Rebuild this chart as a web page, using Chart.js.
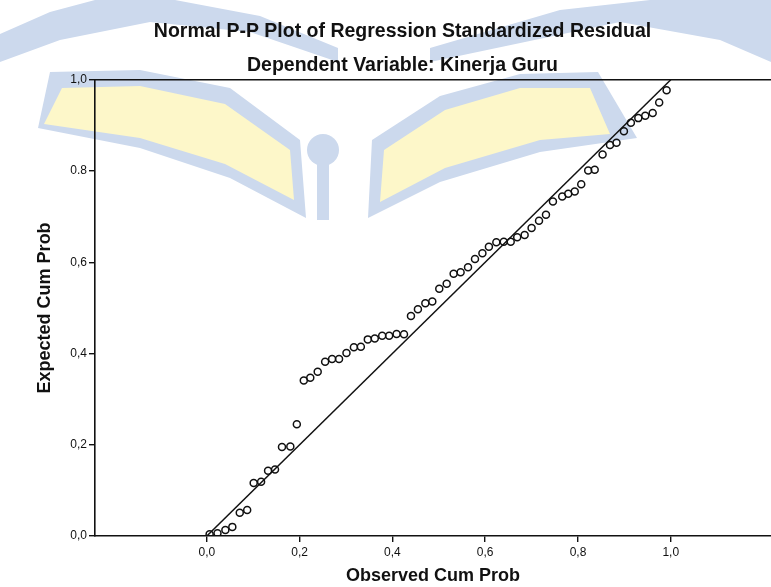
<!DOCTYPE html>
<html>
<head>
<meta charset="utf-8">
<title>Normal P-P Plot</title>
<script src="https://cdn.jsdelivr.net/npm/chart.js@4.4.1/dist/chart.umd.min.js"></script>
<style>
  html, body { margin: 0; padding: 0; background: #fff; }
  #wrap { width: 771px; height: 587px; }
</style>
</head>
<body>
<div id="wrap"><canvas id="ppPlot" width="771" height="587"></canvas></div>
<script>
// values
const observedCumProb = [
  0.006, 0.023, 0.040, 0.055, 0.071, 0.087, 0.101, 0.117, 0.132, 0.147, 0.162, 0.180, 0.194,
  0.209, 0.223, 0.239, 0.255, 0.270, 0.285, 0.301, 0.317, 0.332, 0.347, 0.362, 0.378, 0.393, 0.409, 0.425,
  0.440, 0.455, 0.471, 0.486, 0.501, 0.517, 0.532, 0.547, 0.563, 0.578, 0.594, 0.608, 0.624, 0.640, 0.655,
  0.669, 0.685, 0.700, 0.716, 0.731, 0.746,
  0.766, 0.779, 0.793, 0.807, 0.822, 0.836, 0.853, 0.869, 0.883, 0.899, 0.914, 0.930, 0.945, 0.961, 0.975, 0.991
];
const expectedCumProb = [
  0.004, 0.006, 0.013, 0.020, 0.051, 0.057, 0.116, 0.119, 0.143, 0.146, 0.195, 0.196, 0.245,
  0.341, 0.347, 0.360, 0.382, 0.388, 0.388, 0.401, 0.414, 0.415, 0.431, 0.433, 0.439, 0.439, 0.443, 0.442,
  0.482, 0.497, 0.510, 0.514, 0.542, 0.553, 0.575, 0.578, 0.589, 0.607, 0.620, 0.634, 0.644, 0.645, 0.645,
  0.655, 0.660, 0.675, 0.691, 0.704, 0.733,
  0.744, 0.750, 0.755, 0.771, 0.801, 0.803, 0.836, 0.857, 0.862, 0.887, 0.906, 0.916, 0.921, 0.927, 0.950, 0.977
];
const refLine = [0, 1];
const xRange = [-0.241, 1.216];
const yRange = [0, 1];
const xTickValues = [0, 0.2, 0.4, 0.6, 0.8, 1.0];
const xTickLabels = ["0,0", "0,2", "0,4", "0,6", "0,8", "1,0"];
const yTickLabels = ["0,0", "0,2", "0,4", "0,6", "0.8", "1,0"];

const FONT = '"Liberation Sans", Arial, Helvetica, sans-serif';
const INK = "#111";
const WM_BLUE = "rgb(204, 217, 237)";
const WM_YELLOW = "rgb(253, 247, 201)";

function poly(ctx, pts, color) {
  ctx.beginPath();
  ctx.moveTo(pts[0][0], pts[0][1]);
  for (let i = 1; i < pts.length; i++) ctx.lineTo(pts[i][0], pts[i][1]);
  ctx.closePath();
  ctx.fillStyle = color;
  ctx.fill();
}

// faint logo printed behind the scanned chart
const watermark = {
  id: "watermark",
  beforeDraw(chart) {
    const ctx = chart.ctx;
    ctx.save();
    ctx.fillStyle = "#fff";
    ctx.fillRect(0, 0, chart.width, chart.height);
    // upper page arcs
    poly(ctx, [[95, 0], [175, 0], [260, 16], [338, 48], [338, 62], [250, 32], [150, 22], [60, 40], [0, 62], [0, 34], [50, 12]], WM_BLUE);
    poly(ctx, [[771, 0], [771, 62], [720, 40], [620, 22], [430, 62], [430, 48], [560, 10], [650, 0]], WM_BLUE);
    // left page
    poly(ctx, [[50, 72], [140, 70], [230, 88], [300, 140], [306, 218], [230, 178], [140, 148], [38, 128]], WM_BLUE);
    poly(ctx, [[62, 88], [140, 86], [225, 104], [290, 150], [294, 200], [225, 164], [140, 138], [44, 124]], WM_YELLOW);
    // right page
    poly(ctx, [[598, 72], [520, 74], [440, 96], [372, 140], [368, 218], [440, 182], [540, 152], [637, 138]], WM_BLUE);
    poly(ctx, [[590, 88], [520, 88], [445, 110], [384, 150], [380, 202], [445, 168], [540, 140], [610, 134]], WM_YELLOW);
    // torch in the middle
    ctx.fillStyle = WM_BLUE;
    ctx.beginPath();
    ctx.arc(323, 150, 16, 0, Math.PI * 2);
    ctx.fill();
    ctx.fillRect(317, 160, 12, 60);
    ctx.restore();
  }
};

// top frame line across the plot
const frameTop = {
  id: "frameTop",
  afterDatasetsDraw(chart) {
    const { ctx, chartArea } = chart;
    ctx.save();
    ctx.strokeStyle = INK;
    ctx.lineWidth = 1.6;
    ctx.beginPath();
    ctx.moveTo(chartArea.left, chartArea.top);
    ctx.lineTo(chartArea.right, chartArea.top);
    ctx.stroke();
    ctx.restore();
  }
};

Chart.defaults.font.family = FONT;
Chart.defaults.color = INK;

const points = observedCumProb.map((x, i) => ({ x, y: expectedCumProb[i] }));
const diagonal = refLine.map((v) => ({ x: v, y: v }));

new Chart(document.getElementById("ppPlot"), {
  type: "scatter",
  data: {
    datasets: [
      {
        label: "Observed",
        data: points,
        pointStyle: "circle",
        pointRadius: 3.5,
        pointHoverRadius: 3.5,
        borderColor: INK,
        borderWidth: 1.5,
        backgroundColor: "rgba(0,0,0,0)"
      },
      {
        label: "Normal",
        type: "line",
        data: diagonal,
        borderColor: INK,
        borderWidth: 1.5,
        pointRadius: 0,
        fill: false
      }
    ]
  },
  options: {
    responsive: false,
    animation: false,
    layout: { autoPadding: false, padding: { left: 34, right: 0, top: 0, bottom: 0 } },
    plugins: {
      legend: { display: false },
      tooltip: { enabled: false },
      title: {
        display: true,
        text: "Normal P-P Plot of Regression Standardized Residual",
        font: { size: 19.5, weight: "bold" },
        color: INK,
        padding: { top: 20, bottom: 0 }
      },
      subtitle: {
        display: true,
        text: "Dependent Variable: Kinerja Guru",
        font: { size: 19.5, weight: "bold" },
        color: INK,
        padding: { top: 11, bottom: 2 }
      }
    },
    scales: {
      x: {
        type: "linear",
        min: xRange[0],
        max: xRange[1],
        afterBuildTicks(scale) {
          scale.ticks = xTickValues.map((value) => ({ value }));
        },
        afterFit(scale) { scale.height = 51; },
        ticks: {
          autoSkip: false,
          maxRotation: 0,
          padding: 3,
          font: { size: 12 },
          color: INK,
          callback(value, index) { return xTickLabels[index]; }
        },
        grid: { drawOnChartArea: false, drawTicks: true, tickLength: 6, color: INK, lineWidth: 1.4 },
        border: { display: true, color: INK, width: 1.6 },
        title: {
          display: true,
          text: "Observed Cum Prob",
          font: { size: 18, weight: "bold" },
          color: INK,
          padding: { top: 0, bottom: 0 }
        }
      },
      y: {
        type: "linear",
        min: yRange[0],
        max: yRange[1],
        ticks: {
          stepSize: 0.2,
          padding: 2,
          font: { size: 12 },
          color: INK,
          callback(value, index) { return yTickLabels[index]; }
        },
        afterFit(scale) { scale.width = 61; },
        grid: { drawOnChartArea: false, drawTicks: true, tickLength: 6, color: INK, lineWidth: 1.4 },
        border: { display: true, color: INK, width: 1.6 },
        title: {
          display: true,
          text: "Expected Cum Prob",
          font: { size: 18, weight: "bold" },
          color: INK,
          padding: { top: 0, bottom: 0 }
        }
      }
    }
  },
  plugins: [watermark, frameTop]
});
</script>
</body>
</html>
